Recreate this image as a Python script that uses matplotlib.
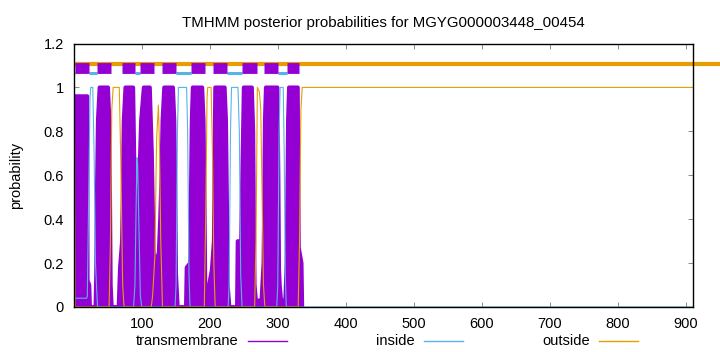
import matplotlib
matplotlib.use("Agg")
import matplotlib.pyplot as plt
from matplotlib.lines import Line2D
import numpy as np

plt.rcParams['font.family'] = ['Liberation Sans', 'DejaVu Sans']
plt.rcParams['font.size'] = 10.5

# posterior probability curves as (residue, value) key points
tm_x = [1, 2, 20, 20.5, 23, 24, 32, 33, 34, 35.5, 38, 50.5, 52.5, 53.5, 54.5, 56,
        66, 68, 71, 72, 73.5, 76, 87.5, 89.5, 90.5, 94, 96, 99, 103, 112, 115, 117.5, 120, 123, 125, 127, 129, 130.5, 133,
        146, 148, 149.5, 150.5, 153, 165, 166, 171, 172, 173.5, 175, 189, 191, 192.5, 193.5, 196, 203, 206, 207, 208,
        222, 224, 225.5, 226.5, 229, 240, 241, 246, 248.5, 250, 262, 264, 265, 266, 268, 276, 279, 280, 281, 282.5,
        299.5, 301, 302, 303, 305, 311, 313, 314, 315, 316.5, 329.5, 331, 335, 336, 910]
tm_y = [0, 0.96, 0.96, 0.12, 0.1, 0, 0, 0.15, 0.5, 0.85, 1, 1, 0.85, 0.5, 0.1, 0,
        0, 0.18, 0.3, 0.5, 0.85, 1, 1, 0.6, 0.42, 0.4, 0.55, 0.85, 1, 1, 0.7, 0.25, 0.21, 0.22, 0.25, 0.4, 0.6, 0.85, 1,
        1, 0.85, 0.5, 0.15, 0, 0, 0.18, 0.2, 0.45, 0.85, 1, 1, 0.85, 0.45, 0.1, 0.05, 0.17, 0.3, 0.7, 1,
        1, 0.85, 0.45, 0.1, 0, 0, 0.3, 0.3, 0.73, 1, 1, 0.8, 0.4, 0.1, 0.03, 0.03, 0.2, 0.5, 0.85, 1,
        1, 0.6, 0.17, 0.1, 0.03, 0.03, 0.2, 0.5, 0.85, 1, 1, 0.27, 0.2, 0, 0]

in_x = [1, 19, 20, 22, 24, 25, 28, 30, 32, 35, 88, 90, 92, 93, 94, 96, 98, 100,
        149, 150.5, 152.5, 154, 166, 167.5, 169.5, 171, 227, 228.5, 230.5, 232, 241.5, 243.5, 245.5, 247.5,
        298.5, 300, 302, 303.5, 308, 309.5, 311, 312.5, 910]
in_y = [0.04, 0.04, 0.05, 0.5, 0.95, 1, 1, 0.7, 0.2, 0, 0, 0.1, 0.5, 0.68, 0.65, 0.35, 0.05, 0,
        0, 0.1, 0.8, 1, 1, 0.8, 0.15, 0, 0, 0.1, 0.8, 1, 1, 0.8, 0.15, 0,
        0, 0.1, 0.8, 1, 1, 0.7, 0.15, 0, 0]

out_x = [1, 2, 52, 54, 56, 58, 67, 69, 72, 74, 114, 116, 119.5, 121, 122, 124.5, 126, 128, 130.5,
         192, 194, 196, 197, 202, 204, 206, 208, 266, 268, 270, 273, 275, 277, 279, 281,
         330, 332, 334, 336, 910]
out_y = [0.96, 0, 0, 0.3, 0.9, 1, 1, 0.7, 0.1, 0, 0, 0.05, 0.24, 0.6, 0.77, 0.92, 0.75, 0.3, 0,
         0, 0.4, 0.95, 1, 1, 0.7, 0.2, 0, 0, 0.3, 1, 0.98, 0.9, 0.5, 0.1, 0,
         0, 0.3, 0.9, 1, 1]

# predicted topology
helix_start = [2.5, 34, 71, 97, 129.5, 172, 205, 247.5, 279.5, 313.5]
helix_end = [22, 55, 90.5, 118.5, 151, 193.5, 226, 269, 301, 331]
inside_start = [0, 22, 90.5, 151, 226, 301]
inside_end = [2.5, 34, 97, 172, 247.5, 313.5]

c_tm = '#9400d3'
c_in = '#56b4e9'
c_out = '#e69f00'

fig = plt.figure(figsize=(7.2, 3.52), dpi=100)
ax = fig.add_axes([73.7 / 720, 45 / 352, (692.7 - 73.7) / 720, (307 - 43.5) / 352])

# transmembrane drawn like thick impulses: filled area plus a thick outline
ax.fill_between(tm_x, 0, tm_y, color=c_tm, lw=0, zorder=2)
ty = np.array(tm_y, dtype=float)
flat = (ty == 0) & (np.r_[0, ty[:-1]] == 0) & (np.r_[ty[1:], 0] == 0)
ax.plot(tm_x, np.ma.masked_where(flat, ty), color=c_tm, lw=2.8, zorder=2)
ax.plot(in_x, in_y, color=c_in, lw=0.8, zorder=3)
ax.plot(out_x, out_y, color=c_out, lw=0.8, zorder=4)

# topology bars on top
ax.plot([0, 950], [1.106, 1.106], color=c_out, lw=3, solid_capstyle='butt', clip_on=False, zorder=5)
for s, e in zip(inside_start, inside_end):
    ax.plot([s, e], [1.067, 1.067], color=c_in, lw=2.2, solid_capstyle='butt', zorder=5)
for s, e in zip(helix_start, helix_end):
    ax.plot([s, e], [1.087, 1.087], color=c_tm, lw=7.8, solid_capstyle='butt', zorder=6)

ax.set_xlim(0, 910)
ax.set_ylim(0, 1.2)
ax.set_xticks([100, 200, 300, 400, 500, 600, 700, 800, 900])
ax.set_yticks([0, 0.2, 0.4, 0.6, 0.8, 1, 1.2])
ax.set_yticklabels(['0', '0.2', '0.4', '0.6', '0.8', '1', '1.2'])
ax.tick_params(direction='in', length=3.5, width=0.6, color='#777777',
               top=True, right=True, pad=7)
for sp in ax.spines.values():
    sp.set_linewidth(1.0)
    sp.set_zorder(7)

ax.set_title('TMHMM posterior probabilities for MGYG000003448_00454', pad=12, fontsize=10.8)
fig.text(16 / 720, 1 - 175 / 352, 'probability', rotation=90, ha='center', va='center')

# key at the bottom
key_y = 1 - 341 / 352
keys = [('transmembrane', c_tm, 238.5, 248, 287),
        ('inside', c_in, 414.5, 424, 463),
        ('outside', c_out, 590, 599, 638)]
for label, col, tx, l0, l1 in keys:
    fig.text(tx / 720, key_y, label, ha='right', va='center')
    fig.add_artist(Line2D([l0 / 720, l1 / 720], [key_y, key_y], color=col, lw=1.0))

fig.savefig('out.png', dpi=100)
